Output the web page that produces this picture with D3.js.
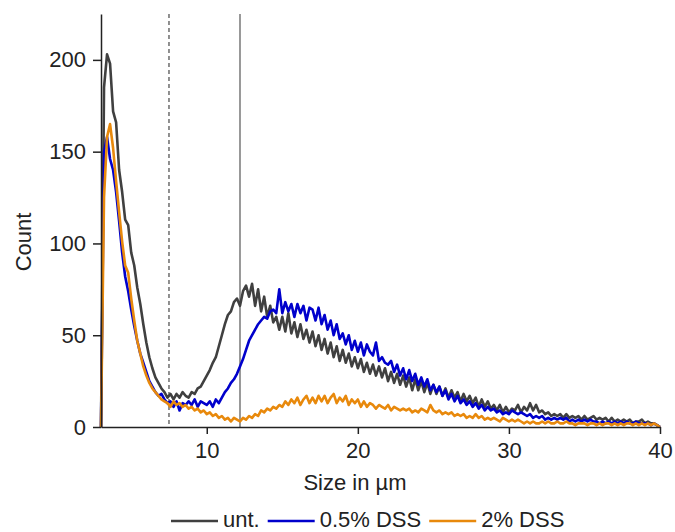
<!DOCTYPE html>
<html lang="en">
	<head>
		<meta charset="utf-8">
		<title>Size distribution</title>
		<script type="text/javascript" src="https://cdn.jsdelivr.net/npm/d3@7"></script>
		<style type="text/css">
			body { margin: 0; background: white; }
			text {
				font-family: "Liberation Sans", Arial, sans-serif;
				font-size: 22px;
				fill: #222;
			}
			.axis path,
			.axis line {
				stroke: #222;
				stroke-width: 1.5px;
			}
			.axis text {
				font-family: "Liberation Sans", Arial, sans-serif;
				font-size: 22px;
				fill: #222;
			}
		</style>
	</head>
	<body>
		<script type="text/javascript">

			//Width and height
			var w = 675;
			var h = 532;

			// histogram bins: 0.2 µm wide, starting at 3 µm
			var binStart = 3;
			var binWidth = 0.2;

			// counts per bin, one row = 2 µm
			var untreated = [
				0, 185, 203, 198, 172, 166, 140, 128, 113, 110,
				95, 88, 76, 67, 56, 46, 38, 32, 27, 24,
				21, 19, 16, 18, 15, 18, 16, 19, 17, 16,
				19, 18, 21, 22, 25, 28, 31, 35, 38, 44,
				50, 56, 61, 63, 68, 70, 66, 74, 77, 71,
				78, 66, 75, 63, 71, 60, 66, 57, 60, 53,
				60, 52, 62, 51, 57, 49, 56, 48, 53, 46,
				52, 44, 50, 42, 48, 40, 46, 38, 44, 36,
				42, 35, 40, 33, 38, 32, 37, 30, 35, 29,
				34, 28, 33, 27, 32, 25, 30, 24, 29, 23,
				28, 22, 27, 20, 26, 20, 25, 19, 24, 18,
				23, 18, 22, 17, 21, 16, 20, 16, 19, 14,
				18, 14, 17, 13, 16, 11, 15, 11, 14, 10,
				12, 9, 12, 8, 11, 8, 10, 9, 12, 8,
				11, 9, 13, 9, 12, 8, 9, 7, 8, 6,
				7, 6, 7, 5, 7, 5, 6, 5, 6, 4,
				6, 4, 5, 6, 4, 5, 4, 5, 3, 5,
				3, 4, 3, 4, 3, 4, 2, 3, 3, 4,
				2, 3, 2, 2, 1, 0
			];

			var dss05 = [
				0, 150, 158, 146, 140, 128, 112, 95, 82, 74,
				64, 55, 47, 40, 35, 30, 25, 22, 19, 17,
				18, 15, 13, 14, 11, 14, 9, 13, 12, 14,
				12, 15, 11, 14, 13, 12, 14, 11, 15, 13,
				16, 19, 21, 24, 26, 29, 33, 37, 42, 47,
				50, 53, 56, 58, 60, 59, 63, 64, 62, 75,
				62, 68, 63, 67, 60, 67, 62, 66, 58, 65,
				64, 58, 65, 56, 61, 53, 58, 50, 56, 48,
				51, 45, 50, 42, 47, 41, 46, 39, 45, 41,
				39, 46, 36, 38, 35, 34, 36, 30, 34, 28,
				32, 26, 31, 25, 29, 23, 27, 22, 26, 20,
				23, 19, 22, 17, 20, 15, 18, 14, 17, 13,
				15, 12, 14, 11, 13, 10, 12, 9, 11, 9,
				10, 8, 9, 7, 8, 7, 9, 8, 7, 8,
				7, 6, 7, 5, 6, 5, 6, 4, 5, 4,
				5, 4, 5, 4, 5, 3, 4, 3, 4, 3,
				4, 3, 4, 3, 3, 2, 3, 2, 3, 2,
				3, 2, 3, 2, 3, 2, 2, 3, 2, 2,
				2, 2, 1, 2, 1, 0
			];

			var dss2 = [
				0, 125, 158, 165, 152, 134, 117, 101, 88, 84,
				70, 58, 47, 40, 33, 28, 24, 21, 19, 17,
				15, 14, 13, 11, 14, 12, 13, 11, 12, 10,
				11, 9, 10, 8, 9, 7, 8, 6, 7, 5,
				6, 4, 5, 3, 5, 4, 3, 5, 4, 6,
				5, 7, 6, 9, 8, 10, 9, 11, 10, 12,
				11, 14, 12, 15, 13, 16, 12, 15, 17, 13,
				16, 13, 17, 14, 17, 13, 16, 18, 13, 16,
				14, 17, 12, 15, 13, 15, 11, 14, 11, 13,
				12, 10, 12, 11, 10, 12, 9, 11, 10, 9,
				10, 9, 10, 8, 9, 8, 10, 9, 8, 12,
				9, 8, 9, 7, 8, 7, 8, 6, 7, 6,
				7, 5, 6, 5, 7, 5, 6, 4, 5, 4,
				5, 4, 3, 5, 4, 3, 4, 3, 4, 3,
				2, 3, 2, 3, 2, 2, 3, 2, 3, 2,
				2, 3, 2, 2, 3, 2, 2, 1, 2, 2,
				2, 1, 2, 2, 1, 2, 1, 2, 2, 1,
				2, 1, 2, 1, 2, 2, 1, 2, 1, 2,
				1, 2, 1, 2, 1, 0
			];

			var seriesNames = ["unt.", "0.5% DSS", "2% DSS"];
			var seriesColors = ["#404040", "#0000cc", "#e8890c"];
			var seriesValues = [untreated, dss05, dss2];

			var xTicks = [10, 20, 30, 40];
			var yTicks = [0, 50, 100, 150, 200];
			var gateLines = [7.5, 12.2]; // dashed, solid

			var xScale = d3.scaleLinear()
							.domain([3, 40])
							.range([101, 660]);

			var yScale = d3.scaleLinear()
							.domain([0, 225])
							.range([427, 14]);

			//Create SVG element
			var svg = d3.select("body")
						.append("svg")
						.attr("width", w)
						.attr("height", h);

			// gate lines
			svg.append("line")
				.attr("x1", xScale(gateLines[0]))
				.attr("x2", xScale(gateLines[0]))
				.attr("y1", yScale(225))
				.attr("y2", yScale(0))
				.attr("stroke", "#222")
				.attr("stroke-width", 1)
				.attr("stroke-dasharray", "4,3");

			svg.append("line")
				.attr("x1", xScale(gateLines[1]))
				.attr("x2", xScale(gateLines[1]))
				.attr("y1", yScale(225))
				.attr("y2", yScale(0))
				.attr("stroke", "#555")
				.attr("stroke-width", 1.2);

			var line = d3.line()
				.x(function(d, i) { return xScale(binStart + i * binWidth); })
				.y(function(d) { return yScale(d); });

			svg.selectAll("path.series")
				.data(seriesValues)
				.enter()
				.append("path")
				.attr("class", "series")
				.attr("d", line)
				.attr("fill", "none")
				.attr("stroke", function(d, i) { return seriesColors[i]; })
				.attr("stroke-width", 2.6)
				.attr("stroke-linejoin", "round");

			// axes
			var xAxis = d3.axisBottom(xScale)
							.tickValues(xTicks)
							.tickSize(7)
							.tickSizeOuter(0)
							.tickPadding(8);

			var yAxis = d3.axisLeft(yScale)
							.tickValues(yTicks)
							.tickSize(8)
							.tickSizeOuter(0)
							.tickPadding(7);

			svg.append("g")
				.attr("class", "axis")
				.attr("transform", "translate(0," + yScale(0) + ")")
				.call(xAxis);

			svg.append("g")
				.attr("class", "axis")
				.attr("transform", "translate(" + xScale(3) + ",0)")
				.call(yAxis);

			// axis titles
			svg.append("text")
				.attr("x", 355)
				.attr("y", 490)
				.attr("text-anchor", "middle")
				.text("Size in µm");

			svg.append("text")
				.attr("transform", "translate(31,242) rotate(-90)")
				.attr("text-anchor", "middle")
				.text("Count");

			// legend
			var legend = svg.append("g");
			var lx = 171;
			seriesNames.forEach(function(name, i) {
				legend.append("line")
					.attr("x1", lx)
					.attr("x2", lx + 47)
					.attr("y1", 521)
					.attr("y2", 521)
					.attr("stroke", seriesColors[i])
					.attr("stroke-width", 2.5);
				var t = legend.append("text")
					.attr("x", lx + 52)
					.attr("y", 527)
					.text(name);
				lx = lx + 52 + t.node().getComputedTextLength() + 8;
			});

		</script>
	</body>
</html>
